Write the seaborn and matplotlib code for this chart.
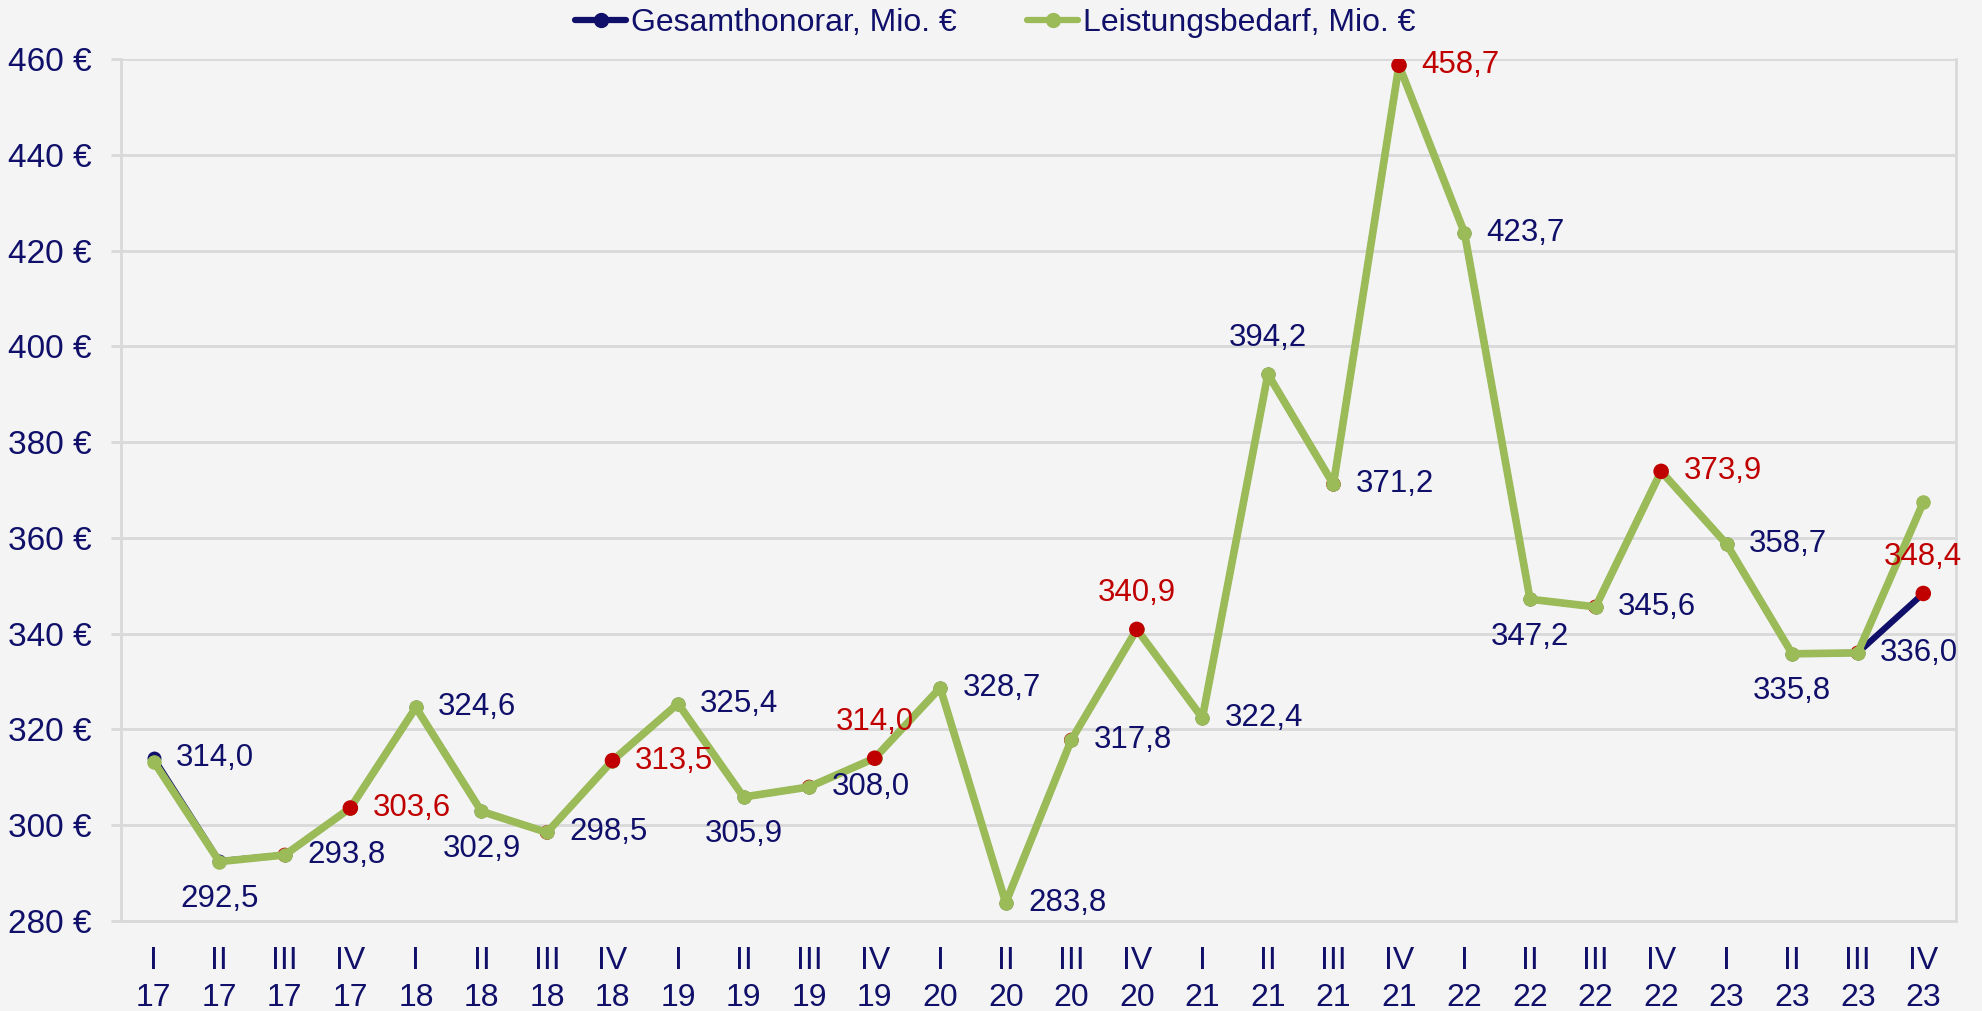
import numpy as np
import pandas as pd
import matplotlib
matplotlib.use("Agg")
import matplotlib.pyplot as plt
import seaborn as sns
from matplotlib.lines import Line2D

# Daten: Quartale 2017 bis 2023
quarters = ["I", "II", "III", "IV"] * 7
years = [y for y in ["17", "18", "19", "20", "21", "22", "23"] for _ in range(4)]

gesamthonorar = [
    314.0, 292.5, 293.8, 303.6,
    324.6, 302.9, 298.5, 313.5,
    325.4, 305.9, 308.0, 314.0,
    328.7, 283.8, 317.8, 340.9,
    322.4, 394.2, 371.2, 458.7,
    423.7, 347.2, 345.6, 373.9,
    358.7, 335.8, 336.0, 348.4,
]

leistungsbedarf = [
    313.3, 292.4, 293.8, 303.6,
    324.6, 302.9, 298.5, 313.5,
    325.4, 305.9, 308.0, 314.0,
    328.7, 283.8, 317.8, 340.9,
    322.4, 394.2, 371.2, 458.7,
    423.7, 347.2, 345.6, 373.9,
    358.7, 335.8, 336.0, 367.4,
]

# Lage der Datenbeschriftung je Punkt
label_pos = [
    "right", "below", "right", "right",
    "right", "below", "right", "right",
    "right", "below", "right", "above",
    "right", "right", "right", "above",
    "right", "above", "right", "right",
    "right", "below", "right", "right",
    "right", "below", "right", "above",
]

NAVY = "#10106A"
GREEN = "#9BBB59"
RED = "#C00000"
BG = "#F4F4F4"
GRID = "#D9D9D9"

sns.set_theme(style="whitegrid")
plt.rcParams["font.family"] = ["Liberation Sans", "DejaVu Sans"]

df = pd.DataFrame({
    "pos": np.arange(len(quarters)),
    "quartal": quarters,
    "jahr": years,
    "gesamthonorar": gesamthonorar,
    "leistungsbedarf": leistungsbedarf,
})

fig = plt.figure(figsize=(19.83, 10.11), dpi=100)
fig.patch.set_facecolor(BG)
ax = fig.add_axes([0.061, 0.089, 0.9254, 0.8526])
ax.set_facecolor(BG)

# Gesamthonorar (unten)
sns.lineplot(data=df, x="pos", y="gesamthonorar", ax=ax, color=NAVY, lw=4.5,
             marker="o", markersize=10, markeredgewidth=0, zorder=2, legend=False)

# rote Marker fuer III-Quartale (unter der gruenen Linie)
sns.scatterplot(data=df[df["quartal"] == "III"], x="pos", y="gesamthonorar", ax=ax,
                color=RED, s=110, edgecolor="none", zorder=2.5, legend=False)

# Leistungsbedarf
sns.lineplot(data=df, x="pos", y="leistungsbedarf", ax=ax, color=GREEN, lw=5.5,
             marker="o", markersize=10.5, markeredgewidth=0, zorder=3, legend=False)

# rote Marker fuer IV-Quartale (oben)
sns.scatterplot(data=df[df["quartal"] == "IV"], x="pos", y="gesamthonorar", ax=ax,
                color=RED, s=125, edgecolor="none", zorder=4, legend=False)

offsets = {"right": (16, 0, "left", "center"),
           "below": (0, -27, "center", "center"),
           "above": (0, 26, "center", "center")}

for i, row in df.iterrows():
    dx, dy, ha, va = offsets[label_pos[i]]
    col = RED if row["quartal"] == "IV" else NAVY
    ax.annotate(f"{row['gesamthonorar']:.1f}".replace(".", ","),
                (row["pos"], row["gesamthonorar"]), xytext=(dx, dy),
                textcoords="offset points", ha=ha, va=va, fontsize=22.5,
                color=col, zorder=5)

ax.set_xlim(-0.5, len(quarters) - 0.5)
ax.set_ylim(280, 460)
ax.set_yticks(np.arange(280, 461, 20))
ax.set_yticklabels([f"{v} €" for v in range(280, 461, 20)])
ax.set_xticks(df["pos"])
ax.set_xticklabels([f"{q}\n{y}" for q, y in zip(quarters, years)], linespacing=1.3)

ax.grid(axis="y", color=GRID, lw=2)
ax.grid(axis="x", visible=False)
ax.tick_params(axis="y", labelsize=24, labelcolor=NAVY, length=7, width=2,
               color=GRID, pad=14, left=True)
ax.tick_params(axis="x", labelsize=23, labelcolor=NAVY, length=0, pad=18)
for side, sp in ax.spines.items():
    sp.set_color(GRID)
    sp.set_linewidth(2)
ax.spines["top"].set_visible(False)
ax.set_xlabel("")
ax.set_ylabel("")

handles = [
    Line2D([0], [0], color=NAVY, lw=4.5, marker="o", markersize=10),
    Line2D([0], [0], color=GREEN, lw=4.5, marker="o", markersize=10),
]
leg = fig.legend(handles, ["Gesamthonorar, Mio. €", "Leistungsbedarf, Mio. €"],
                 loc="center", bbox_to_anchor=(0.502, 0.977), ncol=2, frameon=False,
                 fontsize=23, handlelength=1.6, handletextpad=0.15, columnspacing=2.2)
for t in leg.get_texts():
    t.set_color(NAVY)

fig.savefig("out.png", dpi=100, facecolor=BG)
